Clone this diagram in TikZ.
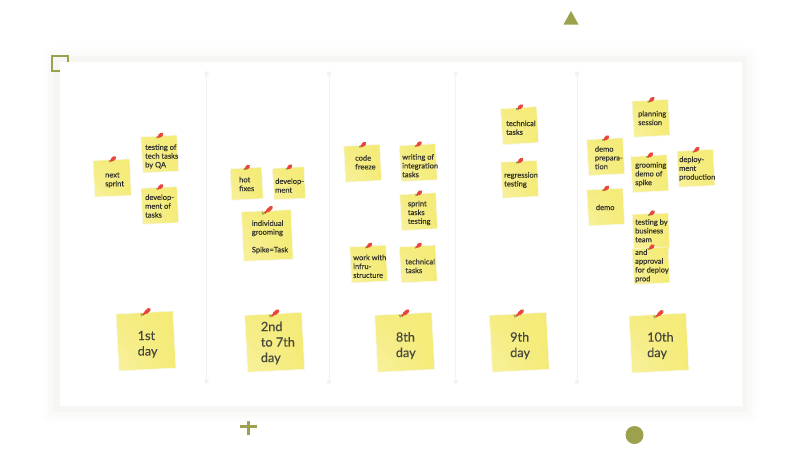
\documentclass[tikz,border=0pt]{standalone}
\usepackage{fontspec}
\setmainfont[FakeBold=0.25]{Lato}
\newfontfamily\boardfont[RawFeature={embolden=0.25}]{Lato}
\usetikzlibrary{shadings}
\definecolor{olivec}{HTML}{9DA04C}
\definecolor{notelight}{HTML}{F8F19E}
\definecolor{notemid}{HTML}{F5EC80}
\definecolor{notedark}{HTML}{F4EB76}
\definecolor{noteedge}{HTML}{F9F8EC}
\definecolor{inkc}{HTML}{33332A}
\definecolor{pinred}{HTML}{E8463A}
\definecolor{pingreen}{HTML}{7F9A50}
\definecolor{shadowa}{HTML}{FDFDFD}
\definecolor{shadowm}{HTML}{FAFAF9}
\definecolor{shadowb}{HTML}{F6F6F4}
\definecolor{divc}{HTML}{F3F3F1}
\tikzset{
  x=1pt,y=-1pt,
  notepaper/.style={draw=noteedge,line width=.6pt,inner sep=0pt,outer sep=0pt,
    lower left=notelight,upper left=notemid,upper right=notedark,lower right=notedark},
  notetext/.style={anchor=west,align=left,inner sep=0pt,text=inkc,font=\boardfont\fontsize{7.5}{8.8}\selectfont},
  bigtext/.style={anchor=west,align=left,inner sep=0pt,text=inkc!90,font=\boardfont\fontsize{12.7}{15.5}\selectfont},
  divider/.style={draw=divc,line width=1pt},
  divend/.style={circle,fill=divc,inner sep=0pt,minimum size=4.5pt},
}
\newcommand{\stickynote}[9]{%
  % name, cx, cy, size, rot, pin scale, text style, text x, text y ; text follows
  \node[notepaper,minimum width=#4pt,minimum height=#4pt,rotate=#5] (#1) at (#2,#3) {};
  \begin{scope}[shift={(#1.north)},scale=#6]
    \draw[pingreen,line width=.7pt] (-3.4,3.6) -- (-1,1.2);
    \fill[pingreen] (-3.4,1.6) circle (.9pt);
    \draw[pinred,line width=1.9pt] (-1.6,2.2) -- (1,0);
    \draw[pinred,line width=3.6pt,line cap=round] (1.2,0) -- (4.6,-3);
  \end{scope}
  \stickytext{#1}{#7}{#8}{#9}%
}
\newcommand{\stickytext}[5]{\node[#2] (#1text) at (#3,#4) {#5};}
\begin{document}
\begin{tikzpicture}
\useasboundingbox (0,0) rectangle (800,466);
\fill[white] (0,0) rectangle (800,466);
% decorations
\fill[olivec] (571,11) -- (578.5,24.5) -- (563.5,24.5) -- cycle;
\fill[olivec] (634.5,435) circle (9pt);
\fill[olivec] (240,425) rectangle (257,428);
\fill[olivec] (247,418) rectangle (250,434.5);
% board
\fill[shadowa,rounded corners=8pt] (43,47) rectangle (757,421);
\fill[shadowm,rounded corners=6pt] (48,51) rectangle (752,417);
\fill[shadowb,rounded corners=3pt] (53,56) rectangle (747,412);
\draw[olivec,line width=2pt] (52,56) rectangle (67.5,71);
\fill[white] (60,62) rectangle (742,406);
% dividers
\foreach \n/\xx in {a/206.5,b/329,c/455.5,d/577}{
  \node[divend] (top\n) at (\xx,73.5) {};
  \node[divend] (bot\n) at (\xx,381.5) {};
  \draw[divider] (top\n) -- (bot\n);
}
% column 1
\stickynote{n1}{112.2}{178}{36.5}{2.5}{.68}{notetext}{105}{180}{next\\sprint}
\stickynote{n2}{159.8}{154}{36}{3}{.63}{notetext}{145}{156.5}{testing of\\tech tasks\\by QA}
\stickynote{n3}{159.8}{205.5}{36}{2.7}{.63}{notetext}{145}{206}{develop-\\ment of\\tasks}
\stickynote{n4}{146}{341}{57}{3}{1}{bigtext}{137.5}{344.3}{1st\\day}
% column 2
\stickynote{n5}{246.7}{183.7}{31.5}{3}{.55}{notetext}{239}{184}{hot\\fixes}
\stickynote{n6}{289}{183.3}{31.5}{3}{.55}{notetext}{275}{185.5}{develop-\\ment}
\stickynote{n7}{267.3}{235.5}{49.5}{2.5}{1.1}{notetext}{251.7}{237}{individual\\grooming\\\\Spike=Task}
\stickynote{n8}{274.7}{342.3}{57}{3}{1}{bigtext}{260.7}{343}{2nd\\to 7th\\day}
% column 3
\stickynote{n9}{362.7}{163.3}{36}{3}{.63}{notetext}{355}{162.3}{code\\freeze}
\stickynote{n10}{418.3}{162.7}{36}{3}{.63}{notetext}{402}{165.7}{writing of\\integration\\tasks}
\stickynote{n11}{418.7}{211.7}{36}{3}{.63}{notetext}{407.7}{213}{sprint\\tasks\\testing}
\stickynote{n12}{368.7}{264}{36}{3}{.63}{notetext}{353}{266.3}{work with\\infru-\\structure}
\stickynote{n13}{418.3}{264}{36}{3}{.63}{notetext}{405.3}{266}{technical\\tasks}
\stickynote{n14}{404.7}{342.3}{57}{3}{1}{bigtext}{395.7}{345.7}{8th\\day}
% column 4
\stickynote{n15}{519.7}{125.7}{36}{3.5}{.63}{notetext}{506}{127.7}{technical\\tasks}
\stickynote{n16}{519.7}{179.3}{36}{3}{.63}{notetext}{504}{180}{regression\\testing}
\stickynote{n17}{519.3}{342.3}{57}{3}{1}{bigtext}{510}{345.7}{9th\\day}
% column 5
\stickynote{n18}{651}{118.3}{36}{3}{.63}{notetext}{638}{118}{planning\\session}
\stickynote{n19}{605.7}{156.7}{36}{3}{.63}{notetext}{594.7}{157.7}{demo\\prepara-\\tion}
\stickynote{n20}{649.7}{173.7}{36}{3}{.63}{notetext}{635}{174.3}{grooming\\demo of\\spike}
\stickynote{n21}{696}{168.3}{36}{3}{.63}{notetext}{679}{168.7}{deploy-\\ment\\production}
\stickynote{n22}{605.7}{207}{36}{3}{.63}{notetext}{595.7}{207.3}{demo}
\stickynote{n23}{651}{231.7}{36}{2}{.63}{notetext}{635}{230.7}{testing by\\business\\team}
\stickynote{n24}{651}{265.7}{36}{3}{.63}{notetext}{635}{266}{and\\approval\\for deploy\\prod}
\stickynote{n25}{659}{343}{57}{3}{1}{bigtext}{647}{345.7}{10th\\day}
\end{tikzpicture}
\end{document}
